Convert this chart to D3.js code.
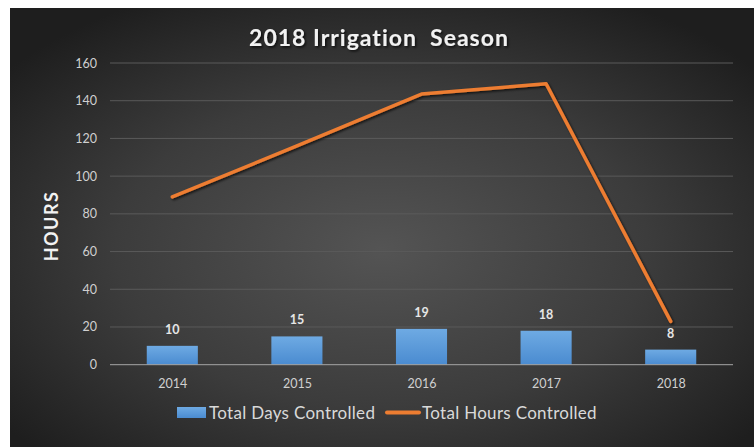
<!DOCTYPE html>
<html>
<head>
<meta charset="utf-8">
<script src="https://cdn.jsdelivr.net/npm/d3@7"></script>
<style>
  html, body { margin: 0; padding: 0; background: #ffffff; }
  svg { display: block; }
  text { font-family: Lato, "Open Sans", sans-serif; }
</style>
</head>
<body>
<script>
const categories = ["2014", "2015", "2016", "2017", "2018"];
const daysControlled = [10, 15, 19, 18, 8];
const hoursControlled = [89, 116, 143.5, 149, 23];
const yTicks = [0, 20, 40, 60, 80, 100, 120, 140, 160];
const seriesNames = ["Total Days Controlled", "Total Hours Controlled"];
const chartTitle = "2018 Irrigation\u00a0 Season";
const yAxisTitle = "HOURS";

(function () {
const W = 754, H = 447;
const svg = d3.select("body").append("svg").attr("width", W).attr("height", H);
const defs = svg.append("defs");

const bg = defs.append("radialGradient").attr("id", "bg")
  .attr("cx", "50%").attr("cy", "55%").attr("r", "65%");
bg.append("stop").attr("offset", "0%").attr("stop-color", "#545454");
bg.append("stop").attr("offset", "55%").attr("stop-color", "#3c3c3c");
bg.append("stop").attr("offset", "100%").attr("stop-color", "#1e1e1e");

const barGrad = defs.append("linearGradient").attr("id", "barGrad")
  .attr("x1", 0).attr("y1", 0).attr("x2", 0).attr("y2", 1);
barGrad.append("stop").attr("offset", "0%").attr("stop-color", "#6eaae3");
barGrad.append("stop").attr("offset", "100%").attr("stop-color", "#4a8bd0");

const shadow = defs.append("filter").attr("id", "shadow")
  .attr("x", "-20%").attr("y", "-20%").attr("width", "140%").attr("height", "140%");
shadow.append("feDropShadow").attr("dx", 1.5).attr("dy", 1.5).attr("stdDeviation", 1.2)
  .attr("flood-color", "#000").attr("flood-opacity", 0.7);

svg.append("rect").attr("x", 10).attr("y", 8).attr("width", W - 10).attr("height", H - 8)
  .attr("fill", "url(#bg)");

const pLeft = 110, pRight = 733, pTop = 63, pBottom = 364.7;
const x = d3.scaleBand().domain(categories).range([pLeft, pRight]).paddingInner(0.59).paddingOuter(0.295);
const xc = d3.scalePoint().domain(categories).range([pLeft, pRight]).padding(0.5);
const y = d3.scaleLinear().domain([0, 160]).range([pBottom, pTop]);

svg.append("g").selectAll("line").data(yTicks.filter(d => d > 0)).join("line")
  .attr("x1", pLeft).attr("x2", pRight)
  .attr("y1", d => y(d)).attr("y2", d => y(d))
  .attr("stroke", "#5a5a5a").attr("stroke-width", 1);

const yAxis = d3.axisLeft(y).tickValues(yTicks).tickSize(0).tickPadding(0);
const ga = svg.append("g").attr("transform", `translate(97,0)`).call(yAxis);
ga.select(".domain").remove();
ga.selectAll("text").attr("fill", "#d0d0d0").attr("font-size", 12.5)
  .style("font-family", "Lato, sans-serif");

svg.append("g").selectAll("rect").data(daysControlled).join("rect")
  .attr("x", (d, i) => x(categories[i]))
  .attr("width", x.bandwidth())
  .attr("y", d => y(d))
  .attr("height", d => y(0) - y(d))
  .attr("fill", "url(#barGrad)");

svg.append("line").attr("x1", pLeft).attr("x2", pRight).attr("y1", pBottom).attr("y2", pBottom)
  .attr("stroke", "#a6a6a6").attr("stroke-width", 1);

const xAxis = d3.axisBottom(xc).tickSize(0).tickPadding(0);
const gx = svg.append("g").attr("transform", `translate(0,${pBottom + 14})`).call(xAxis);
gx.select(".domain").remove();
gx.selectAll("text").attr("fill", "#d0d0d0").attr("font-size", 12.5)
  .style("font-family", "Lato, sans-serif");

svg.append("g").selectAll("text").data(daysControlled).join("text")
  .attr("x", (d, i) => xc(categories[i]))
  .attr("y", d => y(d) - 12)
  .attr("text-anchor", "middle")
  .attr("fill", "#e6e6e6").attr("font-size", 12.5).attr("font-weight", "bold")
  .text(d => d);

const line = d3.line().x((d, i) => xc(categories[i])).y(d => y(d));
svg.append("path").datum(hoursControlled)
  .attr("d", line)
  .attr("fill", "none").attr("stroke", "#ed7d31").attr("stroke-width", 3.5)
  .attr("stroke-linecap", "round").attr("stroke-linejoin", "round")
  .attr("filter", "url(#shadow)");

svg.append("text").attr("x", 379).attr("y", 46).attr("text-anchor", "middle")
  .attr("fill", "#f2f2f2").attr("font-size", 23).attr("font-weight", "bold")
  .attr("letter-spacing", 1)
  .attr("filter", "url(#shadow)")
  .text(chartTitle);

svg.append("text").attr("transform", "translate(58,226) rotate(-90)")
  .attr("text-anchor", "middle").attr("fill", "#f2f2f2")
  .attr("font-size", 18).attr("font-weight", "bold").attr("letter-spacing", 1.5)
  .text(yAxisTitle);

const lg = svg.append("g");
lg.append("rect").attr("x", 177).attr("y", 407).attr("width", 29).attr("height", 11)
  .attr("fill", "url(#barGrad)");
lg.append("text").attr("x", 209).attr("y", 419).attr("fill", "#d9d9d9").attr("font-size", 17)
  .attr("letter-spacing", 0.3)
  .text(seriesNames[0]);
lg.append("line").attr("x1", 387).attr("x2", 419).attr("y1", 412.5).attr("y2", 412.5)
  .attr("stroke", "#ed7d31").attr("stroke-width", 4).attr("stroke-linecap", "round");
lg.append("text").attr("x", 422).attr("y", 419).attr("fill", "#d9d9d9").attr("font-size", 17)
  .attr("letter-spacing", 0.3)
  .text(seriesNames[1]);
})();
</script>
</body>
</html>
